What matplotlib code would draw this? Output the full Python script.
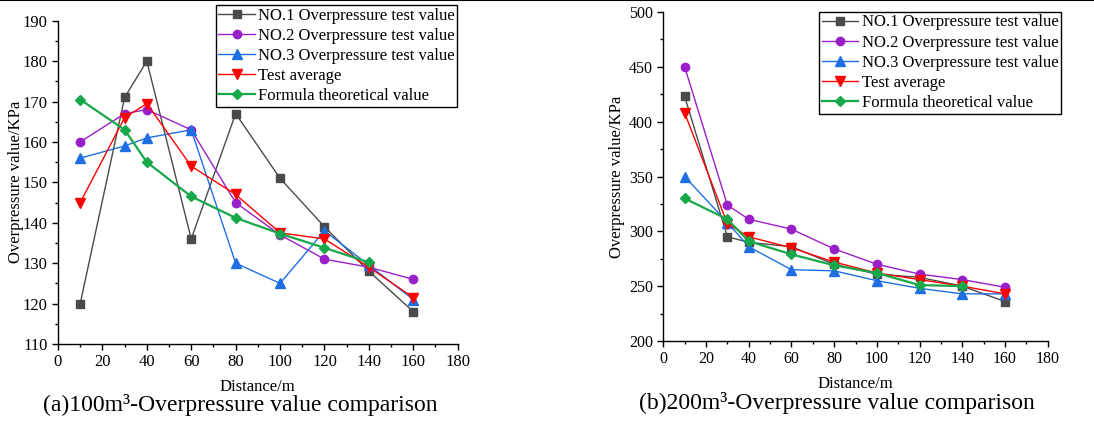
import matplotlib
matplotlib.use("Agg")
import matplotlib.pyplot as plt
from matplotlib.lines import Line2D
from matplotlib.ticker import MultipleLocator

plt.rcParams['font.family'] = ['Liberation Serif', 'DejaVu Serif']

distance = [10, 30, 40, 60, 80, 100, 120, 140, 160]
distance_formula = [10, 30, 40, 60, 80, 100, 120, 140]

# (a) 100 m3
a_no1 = [120, 171, 180, 136, 167, 151, 139, 128, 118]
a_no2 = [160, 167, 168, 163, 145, 137, 131, 129, 126]
a_no3 = [156, 159, 161, 163, 130, 125, 138, 129.5, 121]
a_avg = [145, 166, 169.5, 154, 147, 137.5, 136, 129, 121.5]
a_formula = [170.5, 163, 155, 146.5, 141.2, 137.3, 133.8, 130.2]

# (b) 200 m3
b_no1 = [423, 295, 290, 286, 270, 261, 258, 250, 236]
b_no2 = [450, 324, 311, 302, 284, 270, 261, 256, 249]
b_no3 = [350, 308, 286, 265, 264, 255, 248, 243, 243]
b_avg = [408, 307, 295, 285, 272, 262, 256, 250, 243]
b_formula = [330, 311, 291, 279, 269, 262, 251, 250]

labels = ["NO.1 Overpressure test value", "NO.2 Overpressure test value",
          "NO.3 Overpressure test value", "Test average", "Formula theoretical value"]

c_gray = '#4a4a4a'
c_purple = '#9b1fc9'
c_blue = '#1f6fe3'
c_red = '#ff0000'
c_green = '#17a84a'

W, H = 1094, 423
fig = plt.figure(figsize=(W / 100, H / 100), dpi=100)

def px_axes(x0, x1, ytop, ybot):
    return fig.add_axes([x0 / W, 1 - ybot / H, (x1 - x0) / W, (ybot - ytop) / H])

def draw(ax, no1, no2, no3, avg, form, ylab_x, tick_size):
    ax.plot(distance, no1, color=c_gray, lw=1.0, marker='s', ms=5.5, label=labels[0])
    ax.plot(distance, no2, color=c_purple, lw=1.0, marker='o', ms=6, label=labels[1])
    ax.plot(distance, no3, color=c_blue, lw=1.0, marker='^', ms=6.5, label=labels[2])
    ax.plot(distance, avg, color=c_red, lw=1.0, marker='v', ms=6.5, label=labels[3])
    ax.plot(distance_formula, form, color=c_green, lw=1.6, marker='D', ms=5.5, label=labels[4])
    for s in ['top', 'right']:
        ax.spines[s].set_visible(False)
    for s in ['left', 'bottom']:
        ax.spines[s].set_linewidth(1.0)
    ax.set_xlim(0, 180)
    ax.xaxis.set_major_locator(MultipleLocator(20))
    ax.xaxis.set_minor_locator(MultipleLocator(10))
    ax.tick_params(which='major', direction='out', length=4, width=1, labelsize=tick_size)
    ax.tick_params(which='minor', direction='out', length=2, width=1)
    ax.set_xlabel("Distance/m", fontsize=12, labelpad=6)
    ax.set_ylabel("Overpressure value/KPa", fontsize=12)
    ax.yaxis.set_label_coords(ylab_x, 0.5)

def add_legend(ax, x, ytop):
    leg = ax.legend(loc='upper left', bbox_to_anchor=(x / W, 1 - ytop / H),
                    bbox_transform=fig.transFigure, fontsize=12, frameon=True,
                    fancybox=False, edgecolor='black', framealpha=1,
                    handlelength=2.2, handletextpad=0.2, labelspacing=0.25,
                    borderpad=0.15, borderaxespad=0)
    leg.get_frame().set_linewidth(1.0)

# Left panel
ax1 = px_axes(58, 457.7, 20.7, 344)
draw(ax1, a_no1, a_no2, a_no3, a_avg, a_formula, -0.085, 12)
ax1.set_ylim(110, 190)
ax1.yaxis.set_major_locator(MultipleLocator(10))
ax1.yaxis.set_minor_locator(MultipleLocator(5))
add_legend(ax1, 215.7, 5)

# Right panel
ax2 = px_axes(663.3, 1047.7, 12, 341)
draw(ax2, b_no1, b_no2, b_no3, b_avg, b_formula, -0.1, 11.5)
ax2.set_ylim(200, 500)
ax2.yaxis.set_major_locator(MultipleLocator(50))
ax2.yaxis.set_minor_locator(MultipleLocator(25))
add_legend(ax2, 819, 12)

fig.text(240 / W, 1 - 405 / H, "(a)100m³-Overpressure value comparison",
         ha='center', va='center', fontsize=17)
fig.text(837 / W, 1 - 403 / H, "(b)200m³-Overpressure value comparison",
         ha='center', va='center', fontsize=17)

fig.add_artist(Line2D([0, 1], [1 - 0.5 / H, 1 - 0.5 / H], color='black', lw=1.5,
                      transform=fig.transFigure))

fig.savefig("out.png", dpi=100)
